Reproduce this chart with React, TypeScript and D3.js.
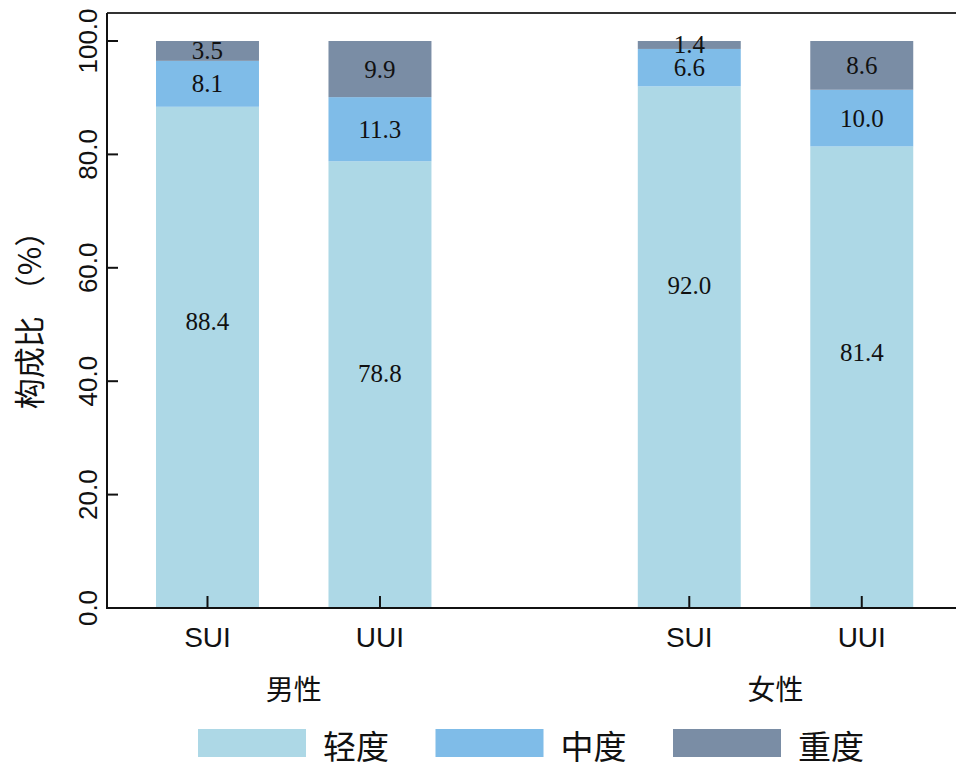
import { useMemo } from "react";
import * as d3 from "d3";

const groups = ["男性", "女性"];
const types = ["SUI", "UUI"];
const severities = ["轻度", "中度", "重度"];
const mild = [88.4, 78.8, 92.0, 81.4];
const moderate = [8.1, 11.3, 6.6, 10.0];
const severe = [3.5, 9.9, 1.4, 8.6];
// where the 轻度 labels sit on the value axis (they are not centred in the original)
const mildLabelAt = [50.6, 41.4, 56.8, 45.1];
const yTicks = [0, 20, 40, 60, 80, 100];

const colors = ["#ADD8E6", "#7FBCE8", "#7A8DA5"];

const W = 956;
const H = 769;
const left = 107;
const top = 13;
const bottom = 608;

const sans = "'Liberation Sans', Arial, sans-serif";
const cjk = "'Noto Sans CJK SC', sans-serif";
const serif = "'Liberation Serif', 'Times New Roman', serif";

export default function App() {
  const rows = useMemo(
    () =>
      groups.flatMap((g, gi) =>
        types.map((t, ti) => {
          const i = gi * types.length + ti;
          return { idx: i, group: g, type: t, 轻度: mild[i], 中度: moderate[i], 重度: severe[i] };
        })
      ),
    []
  );

  const stacked = d3.stack<any>().keys(severities)(rows);

  const x0 = d3.scaleBand().domain(groups).range([121.25, 948]).paddingInner(0.284).paddingOuter(0);
  const x1 = d3.scaleBand().domain(types).range([0, x0.bandwidth()]).paddingInner(0.403).paddingOuter(0.2015);
  const y = d3.scaleLinear().domain([0, 100]).range([bottom, 41]);

  const barX = (d: any) => (x0(d.group) as number) + (x1(d.type) as number);
  const bw = x1.bandwidth();

  return (
    <svg width={W} height={H} style={{ position: "absolute", left: 0, top: 0, background: "#fff" }}>
      {/* bars */}
      {stacked.map((layer, li) => (
        <g key={layer.key}>
          {layer.map((seg, i) => (
            <rect
              key={i}
              x={barX(seg.data)}
              width={bw}
              y={y(seg[1])}
              height={y(seg[0]) - y(seg[1])}
              fill={colors[li]}
            />
          ))}
        </g>
      ))}
      {/* value labels */}
      {stacked.map((layer, li) => (
        <g key={"l" + layer.key}>
          {layer.map((seg, i) => (
            <text
              key={i}
              x={barX(seg.data) + bw / 2}
              y={y(li === 0 ? mildLabelAt[seg.data.idx] : (seg[0] + seg[1]) / 2)}
              textAnchor="middle"
              dominantBaseline="central"
              fontFamily={serif}
              fontSize={25}
              fill="#111"
            >
              {(seg[1] - seg[0]).toFixed(1)}
            </text>
          ))}
        </g>
      ))}
      {/* frame */}
      <line x1={left} x2={W} y1={top} y2={top} stroke="#333" strokeWidth={2} />
      <line x1={left} x2={left} y1={top} y2={bottom + 1} stroke="#111" strokeWidth={2} />
      <line x1={left - 1} x2={W} y1={bottom} y2={bottom} stroke="#111" strokeWidth={2} />
      {/* y ticks */}
      {yTicks.map((v) => (
        <g key={v}>
          <line x1={left} x2={left + 11} y1={y(v)} y2={y(v)} stroke="#111" strokeWidth={2} />
          <text
            transform={`translate(97,${y(v)}) rotate(-90)`}
            textAnchor="middle"
            fontFamily={sans}
            fontSize={26}
            fill="#111"
          >
            {v.toFixed(1)}
          </text>
        </g>
      ))}
      <text
        transform={`translate(41,${(top + bottom) / 2 + 2}) rotate(-90)`}
        textAnchor="middle"
        fontFamily={cjk}
        fontSize={31}
        fill="#111"
      >
        构成比<tspan dx={10}>（%）</tspan>
      </text>
      {/* x ticks */}
      {rows.map((d, i) => (
        <g key={i}>
          <line
            x1={barX(d) + bw / 2}
            x2={barX(d) + bw / 2}
            y1={bottom}
            y2={bottom - 12}
            stroke="#111"
            strokeWidth={2}
          />
          <text x={barX(d) + bw / 2} y={647} textAnchor="middle" fontFamily={sans} fontSize={28} fill="#111">
            {d.type}
          </text>
        </g>
      ))}
      {groups.map((g) => (
        <text
          key={g}
          x={(x0(g) as number) + x0.bandwidth() / 2}
          y={700}
          textAnchor="middle"
          fontFamily={cjk}
          fontSize={28}
          fill="#111"
        >
          {g}
        </text>
      ))}
      {/* legend */}
      {severities.map((s, i) => {
        const lx = 198 + i * 237.5;
        return (
          <g key={s}>
            <rect x={lx} y={729} width={108} height={28} fill={colors[i]} />
            <text x={lx + 125} y={759} fontFamily={cjk} fontSize={33} fill="#111">
              {s}
            </text>
          </g>
        );
      })}
    </svg>
  );
}
